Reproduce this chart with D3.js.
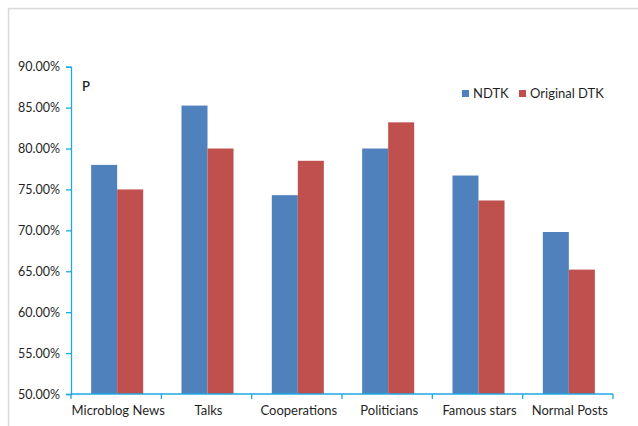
<!DOCTYPE html>
<html>
<head>
<meta charset="utf-8">
<script src="https://cdn.jsdelivr.net/npm/d3@7/dist/d3.min.js"></script>
<style>
  html, body { margin: 0; padding: 0; background: #fff; }
  svg { display: block; }
  text { font-family: Lato, "Open Sans", sans-serif; fill: #1f1f1f; }
</style>
</head>
<body>
<svg id="chart" width="638" height="426"></svg>
<script>
// Precision of each topic class
const categories = ["Microblog News", "Talks", "Cooperations", "Politicians", "Famous stars", "Normal Posts"];
const seriesNames = ["NDTK", "Original DTK"];
const ndtk = [78.0, 85.25, 74.3, 80.0, 76.7, 69.8];
const originalDtk = [75.0, 80.0, 78.5, 83.2, 73.65, 65.2];
const yTicks = [50, 55, 60, 65, 70, 75, 80, 85, 90];
const colors = ["#4F81BD", "#C0504D"];

const seriesValues = [ndtk, originalDtk];
const rows = categories.map((c, i) => ({
  category: c,
  values: seriesNames.map((s, j) => ({ series: s, value: seriesValues[j][i] }))
}));

const svg = d3.select("#chart");
const plotLeft = 71, plotRight = 613, plotTop = 66.7, plotBottom = 394;
const axisColor = "#1FA7E4";

// Outer chart frame (left and top edges)
svg.append("path")
  .attr("d", "M8.5,426 V8.5 H638")
  .attr("fill", "none")
  .attr("stroke", "#D9D9D9")
  .attr("stroke-width", 1.5);

const x0 = d3.scaleBand()
  .domain(categories)
  .range([plotLeft, plotRight])
  .paddingInner(0.424)
  .paddingOuter(0.212);

const x1 = d3.scaleBand()
  .domain(seriesNames)
  .range([0, x0.bandwidth()]);

const y = d3.scaleLinear()
  .domain([50, 90])
  .range([plotBottom, plotTop]);

const color = d3.scaleOrdinal().domain(seriesNames).range(colors);

// Bars
const groups = svg.append("g").selectAll("g")
  .data(rows)
  .join("g")
  .attr("transform", d => `translate(${x0(d.category) + 1},0)`);

groups.selectAll("rect")
  .data(d => d.values)
  .join("rect")
  .attr("x", d => x1(d.series))
  .attr("y", d => y(d.value))
  .attr("width", x1.bandwidth())
  .attr("height", d => y(50) - y(d.value))
  .attr("fill", d => color(d.series));

// Y axis
const yAxis = svg.append("g")
  .attr("transform", `translate(${plotLeft},0)`)
  .call(d3.axisLeft(y).tickValues(yTicks).tickSize(5).tickPadding(6)
    .tickFormat(d => d3.format(".2f")(d) + "%"));
yAxis.select(".domain").attr("stroke", axisColor).attr("stroke-width", 1.3);
yAxis.selectAll(".tick line").attr("stroke", axisColor).attr("stroke-width", 1.3);
yAxis.selectAll(".tick text")
  .style("font-size", "12.5px")
  .attr("fill", "#1f1f1f");

// X axis with ticks at category boundaries
const xBoundary = d3.scaleLinear().domain([0, categories.length]).range([plotLeft, plotRight]);
const xAxisG = svg.append("g").attr("transform", `translate(0,${plotBottom})`);
xAxisG.append("line")
  .attr("x1", plotLeft).attr("x2", plotRight)
  .attr("stroke", axisColor).attr("stroke-width", 1.3);
xAxisG.selectAll("line.tick")
  .data(d3.range(categories.length + 1))
  .join("line")
  .attr("class", "tick")
  .attr("x1", d => xBoundary(d)).attr("x2", d => xBoundary(d))
  .attr("y1", 0).attr("y2", 5)
  .attr("stroke", axisColor).attr("stroke-width", 1.3);
xAxisG.selectAll("text")
  .data(categories)
  .join("text")
  .attr("x", d => x0(d) + x0.bandwidth() / 2 + 2)
  .attr("y", 21)
  .attr("text-anchor", "middle")
  .style("font-size", "13px")
  .text(d => d);

// Axis title
svg.append("text")
  .attr("x", 82)
  .attr("y", 91)
  .style("font-size", "13px")
  .style("font-weight", "600")
  .text("P");

// Legend
const legend = svg.append("g").selectAll("g")
  .data(seriesNames)
  .join("g")
  .attr("transform", (d, i) => `translate(${[462, 519][i]},90)`);
legend.append("rect")
  .attr("width", 7).attr("height", 7)
  .attr("fill", d => color(d));
legend.append("text")
  .attr("x", 11)
  .attr("y", 7.5)
  .style("font-size", "13px")
  .text(d => d);
</script>
</body>
</html>
